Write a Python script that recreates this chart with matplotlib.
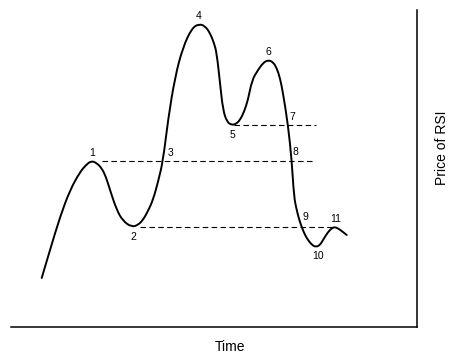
import numpy as np
import matplotlib
matplotlib.use("Agg")
import matplotlib.pyplot as plt
from matplotlib.path import Path
from matplotlib.patches import PathPatch

plt.rcParams['font.family'] = ['Liberation Sans', 'DejaVu Sans']

# price path (time, price)
time = [30.7, 39, 49, 59, 69, 75, 80, 85, 90.7, 95, 99, 105.7, 112, 120.7, 127, 132,
        137, 142, 147, 152, 157, 164, 172, 181, 188, 194, 199, 203, 205.7, 209, 212,
        216, 220.7, 225, 229, 233, 237, 241, 247, 252, 257, 262, 265.7, 269, 272, 277,
        280.7, 283, 285.7, 288, 290.7, 294, 297, 301, 305, 309, 312, 317, 321, 324,
        328, 332, 335.7]
price = [49, 77, 110, 137, 155, 162, 166, 164.5, 159, 150, 137, 117, 106, 100, 102, 107,
         116, 127, 145, 166, 207, 250, 280, 299, 303, 301, 294, 284, 274, 244, 217,
         205, 202, 203, 207, 215, 227, 247, 257, 264, 267, 265, 259, 249, 234, 202,
         167, 130, 117, 108, 100, 92, 87, 82, 80, 82, 87, 95, 99, 100,
         98, 95, 92]

# support / resistance levels: (price, start, end)
levels = [166, 202, 100]
level_start = [91, 223, 129]
level_end = [301, 305, 322]

labels = ['1', '2', '3', '4', '5', '6', '7', '8', '9', '10', '11']
label_t = [81, 122, 160, 188, 221, 257, 281, 284, 294, 307, 325]
label_p = [174, 90, 174, 311, 192, 275, 210, 175, 110, 71, 108]

fig = plt.figure(figsize=(4.56, 3.59), dpi=100)
ax = fig.add_axes([11/456, 32/359, 406/456, 317/359])

# smooth the drawn line: quadratic curves through the midpoints
pts = np.column_stack([time, price])
verts = [pts[0]]
codes = [Path.MOVETO]
for i in range(1, len(pts) - 1):
    verts += [pts[i], (pts[i] + pts[i + 1]) / 2]
    codes += [Path.CURVE3, Path.CURVE3]
verts.append(pts[-1])
codes.append(Path.LINETO)
ax.add_patch(PathPatch(Path(verts, codes), facecolor='none', edgecolor='black',
                       lw=1.4, capstyle='round'))

for p, s, e in zip(levels, level_start, level_end):
    ax.plot([s, e], [p, p], color='black', lw=0.8, dashes=(5, 3))

for lab, t, p in zip(labels, label_t, label_p):
    ax.text(t, p, lab, fontsize=7.5, ha='center', va='center')

ax.set_xlim(0, 406)
ax.set_ylim(0, 317)
ax.spines['top'].set_visible(False)
ax.spines['left'].set_visible(False)
ax.spines['right'].set_linewidth(1.1)
ax.spines['bottom'].set_linewidth(1.1)
ax.set_xticks([])
ax.set_yticks([])

fig.text(230/456, 1 - 347/359, 'Time', fontsize=10, ha='center', va='center')
fig.text(442/456, 1 - 148/359, 'Price of RSI', fontsize=10, ha='center', va='center',
         rotation=90)

fig.savefig('out.png', dpi=100)
